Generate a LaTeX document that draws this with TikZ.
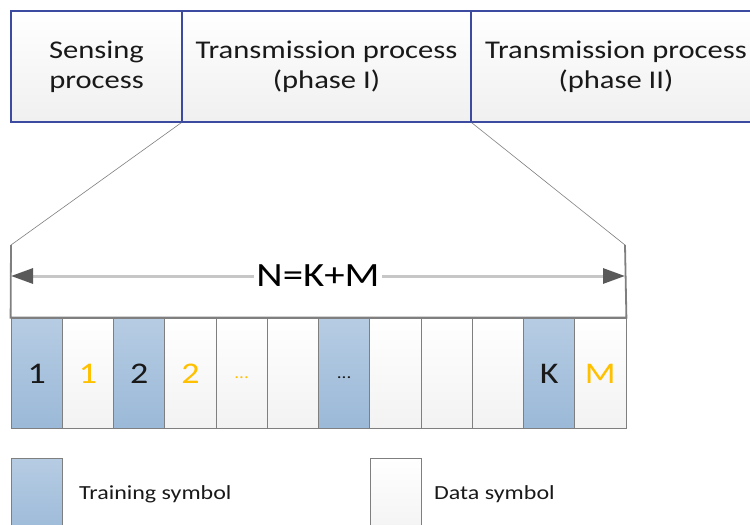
\documentclass[tikz,border=0pt]{standalone}
\usepackage{fontspec}
\setmainfont{Carlito}[FakeStretch=1.2]
\usetikzlibrary{arrows.meta}
\definecolor{frameblue}{RGB}{60,75,160}
\definecolor{cellgrey}{RGB}{127,127,127}
\definecolor{trainup}{RGB}{182,204,227}
\definecolor{traindown}{RGB}{155,185,216}
\definecolor{datagold}{RGB}{255,192,0}
\newcommand{\smalldots}{\raisebox{5pt}{\fontsize{16}{16}\selectfont...}}

\tikzset{
  procbox/.style={draw=frameblue,line width=1.4pt,top color=white,bottom color=black!6,
    minimum height=111pt,inner sep=0pt,align=center,text=black!90,
    font=\fontsize{25.5}{30}\selectfont,execute at begin node={\rule{0pt}{30pt}}},
  symcell/.style={draw=cellgrey,line width=0.8pt,minimum width=51.25pt,minimum height=110pt,
    inner sep=0pt,text height=20pt,text depth=0pt,font=\fontsize{30}{30}\selectfont},
  trainsym/.style={symcell,top color=trainup,bottom color=traindown,text=black!90},
  datasym/.style={symcell,top color=white,bottom color=black!5,text=datagold},
  legendtext/.style={anchor=west,inner sep=0pt,text=black!90,font=\fontsize{20}{24}\selectfont}
}

\begin{document}
\begin{tikzpicture}[x=1pt,y=-1pt]
    \useasboundingbox (0,0) rectangle (750,525);
    \clip (0,0) rectangle (750,525);
    % frame: sensing + two transmission phases
    \node[procbox,minimum width=171pt] (sense) at (96.5,66.5) {Sensing\\process};
    \node[procbox,minimum width=289pt] (phaseone) at (326.5,66.5) {Transmission process\\(phase I)};
    \node[procbox,minimum width=290pt] (phasetwo) at (616,66.5) {Transmission process\\(phase II)};
    % symbols of phase I
    \foreach \i/\kind/\lab in {0/trainsym/1,1/datasym/1,2/trainsym/2,3/datasym/2,
      4/datasym/\smalldots,5/datasym/,6/trainsym/\smalldots,7/datasym/,
      8/datasym/,9/datasym/,10/trainsym/K,11/datasym/M}
    \node[\kind] (c\i) at (11+51.25*\i+25.625,373) {\lab};
    % zoom lines and bracket
    \coordinate (brl) at (11,245);
    \coordinate (brr) at (625,245);
    \coordinate (arl) at (11,276);
    \coordinate (arr) at (625,276);
    \draw[cellgrey,line width=0.6pt] (phaseone.south west) -- (brl);
    \draw[cellgrey,line width=0.6pt] (phaseone.south east) -- (brr);
    \draw[cellgrey,line width=1.8pt] (brl) -- (c0.north west) -- (c11.north east) -- (brr);
    \draw[black!22,line width=3pt,
      {Triangle[length=22pt,width=15pt,color=black!65]}-{Triangle[length=22pt,width=15pt,color=black!65]}]
      (arl) -- (arr)
      node[midway,fill=white,inner sep=2pt,text=black,font=\fontsize{34}{34}\selectfont] (nkm) {N=K+M};
    % legend
    \node[trainsym,minimum height=80pt] (keytrain) at (37,498) {};
    \node[legendtext] (keytraintxt) at (79,494) {Training symbol};
    \node[datasym,minimum height=80pt] (keydata) at (396,498) {};
    \node[legendtext] (keydatatxt) at (434,494) {Data symbol};
\end{tikzpicture}
\end{document}
